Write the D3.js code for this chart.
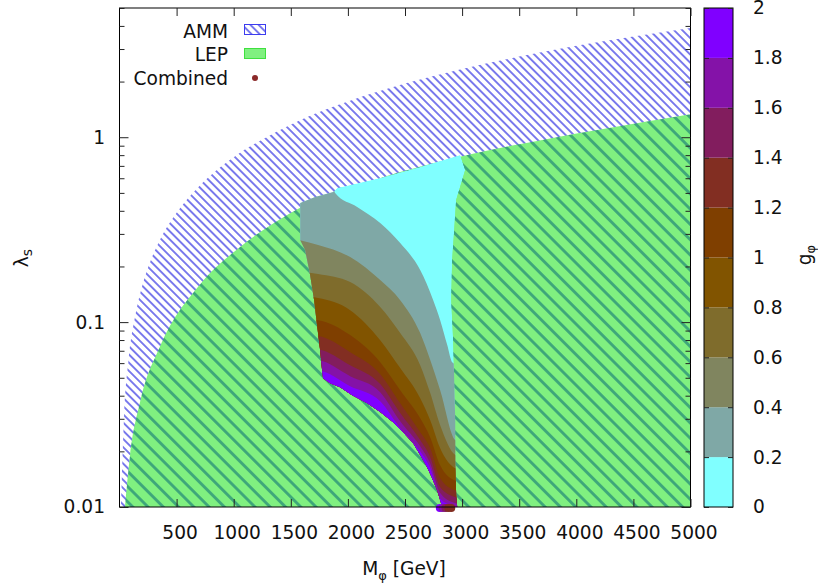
<!DOCTYPE html>
<html>
<head>
<meta charset="utf-8">
<script src="https://cdn.jsdelivr.net/npm/d3@7"></script>
<style>
  body { margin: 0; background: #fff; }
  svg text { font-family: "DejaVu Sans", sans-serif; fill: #111; }
</style>
</head>
<body>
<svg id="drawing_region"></svg>
<script>
// AMM exclusion boundary (lambda below this is hatched)
const ammMass   = [13, 40, 80, 140, 200, 270, 350, 500, 700, 1000, 1300, 1600, 2000, 2500, 3000, 3500, 4000, 4500, 5000];
const ammLambda = [0.0102, 0.031, 0.063, 0.11, 0.158, 0.213, 0.275, 0.39, 0.545, 0.78, 1.01, 1.25, 1.56, 1.95, 2.34, 2.73, 3.12, 3.51, 3.9];

// LEP boundary
const lepMass   = [48, 92, 180, 355, 705, 1056, 1406, 1582, 2020, 2458, 3115, 3772, 4210, 5000];
const lepLambda = [0.01, 0.019, 0.037, 0.074, 0.16, 0.255, 0.36, 0.415, 0.53, 0.648, 0.82, 0.985, 1.1, 1.33];

// outline of the combined allowed region
const regionMass = [1582, 1713, 1871, 1906, 2283, 2633, 2983, 3027, 3001, 2948, 2931, 2913, 2905, 2922, 2931, 2940, 2940, 2948, 2957,
                    2826, 2782, 2738, 2694, 2633, 2572, 2484, 2396, 2283, 2169, 2037, 1932, 1844, 1783, 1774, 1757, 1730, 1704, 1669, 1625, 1582];
const regionLambda = [0.4407, 0.4752, 0.5057, 0.5314, 0.6021, 0.6906, 0.802, 0.665, 0.587, 0.4575, 0.3147, 0.2166, 0.1315, 0.0799, 0.0485, 0.0295, 0.0179, 0.0116, 0.01,
                      0.01, 0.0123, 0.0143, 0.0164, 0.0191, 0.0221, 0.0254, 0.0287, 0.0326, 0.0364, 0.0402, 0.0445, 0.0467, 0.0497, 0.055, 0.0705, 0.0963, 0.1315, 0.1797, 0.2454, 0.278];

// g_phi contour levels: upper edge of the region where g >= level
const bandLevels = [0.2, 0.4, 0.6, 0.8, 1.0, 1.2, 1.4, 1.6, 1.8];
const bandMassCommon = [1494, 1739, 2020, 2283, 2458, 2633, 2721, 2808, 2940, 3071];
const bandMass = [
  [1494, 1871, 1888, 2081, 2283, 2458, 2633, 2747, 2808, 2870, 2913, 3071],
  bandMassCommon, bandMassCommon, bandMassCommon, bandMassCommon,
  bandMassCommon, bandMassCommon, bandMassCommon, bandMassCommon
];
const bandLambda = [
  [0.853, 0.552, 0.499, 0.4195, 0.3436, 0.2677, 0.1912, 0.1315, 0.1025, 0.0751, 0.0607, 0.055],
  [0.285, 0.2611, 0.2248, 0.1688, 0.1315, 0.0872, 0.0623, 0.0428, 0.023, 0.0216],
  [0.1912, 0.1819, 0.1646, 0.1206, 0.0872, 0.0585, 0.0413, 0.0277, 0.0191, 0.0179],
  [0.14, 0.1349, 0.1161, 0.0799, 0.0564, 0.0388, 0.0295, 0.0208, 0.0162, 0.0154],
  [0.1051, 0.1025, 0.0851, 0.0607, 0.0428, 0.0302, 0.0238, 0.0168, 0.0139, 0.0134],
  [0.0861, 0.084, 0.0688, 0.0523, 0.0364, 0.0254, 0.0208, 0.0143, 0.0123, 0.0119],
  [0.0732, 0.0714, 0.0585, 0.0462, 0.0322, 0.023, 0.0186, 0.0128, 0.0113, 0.0109],
  [0.0638, 0.0623, 0.051, 0.0418, 0.0291, 0.0213, 0.0172, 0.0119, 0.0105, 0.0102],
  [0.0564, 0.055, 0.045, 0.0373, 0.0267, 0.02, 0.0162, 0.0111, 0.01, 0.0096]
];

// scan points sitting on the lower axis
const dotMass   = [2805, 2830, 2855, 2880, 2905];
const dotLambda = [0.01, 0.01, 0.01, 0.01, 0.01];
const dotG      = [1.9, 1.7, 1.5, 1.3, 1.3];

const xTicks  = [500, 1000, 1500, 2000, 2500, 3000, 3500, 4000, 4500, 5000];
const yTicks  = [0.01, 0.1, 1];
const cbTicks = [0, 0.2, 0.4, 0.6, 0.8, 1, 1.2, 1.4, 1.6, 1.8, 2];

const palette = ['#80ffff', '#7fa8a6', '#80855f', '#7f6c2c', '#815400', '#7f3f00',
                 '#822e22', '#821d5e', '#8412a8', '#8000ff'];

class ExclusionPlot {

    constructor( config ) {
        this.config = config;
        this.init();
    }

    init() {
        let self = this;
        let c = self.config;

        self.svg = d3.select( c.parent )
            .attr('width', c.width)
            .attr('height', c.height);

        self.x = d3.scaleLinear().domain([0, 5000]).range([c.left, c.right]);
        self.y = d3.scaleLog().domain([0.01, 5]).range([c.bottom, c.top]);
        self.cbY = d3.scaleLinear().domain([0, 2]).range([c.bottom, c.top]);
        self.color = d3.scaleQuantize().domain([0, 2]).range(palette);

        self.line = d3.line()
            .x(d => self.x(d[0]))
            .y(d => self.y(d[1]));
        self.smooth = d3.line()
            .x(d => self.x(d[0]))
            .y(d => self.y(d[1]))
            .curve(d3.curveMonotoneX);

        let defs = self.svg.append('defs');

        defs.append('clipPath').attr('id', 'plotClip')
            .append('rect')
            .attr('x', c.left).attr('y', c.top)
            .attr('width', c.right - c.left).attr('height', c.bottom - c.top);

        let amm = defs.append('pattern')
            .attr('id', 'hatchAMM')
            .attr('patternUnits', 'userSpaceOnUse')
            .attr('width', 5.8).attr('height', 5.8)
            .attr('patternTransform', 'rotate(-45)');
        amm.append('line')
            .attr('x1', 2.9).attr('y1', 0).attr('x2', 2.9).attr('y2', 5.8)
            .attr('stroke', '#5b5be8').attr('stroke-width', 1.6);

        let lep = defs.append('pattern')
            .attr('id', 'hatchLEP')
            .attr('patternUnits', 'userSpaceOnUse')
            .attr('width', 10.8).attr('height', 10.8)
            .attr('patternTransform', 'rotate(-45)');
        lep.append('rect')
            .attr('width', 10.8).attr('height', 10.8)
            .attr('fill', '#80f080');
        lep.append('line')
            .attr('x1', 5.4).attr('y1', 0).attr('x2', 5.4).attr('y2', 10.8)
            .attr('stroke', '#3ca57a').attr('stroke-width', 2.8);

        let region = d3.zip(regionMass, regionLambda);
        defs.append('clipPath').attr('id', 'regionClip')
            .append('path')
            .attr('d', self.line(region) + 'Z');
        self.region = region;
    }

    update() {
        let self = this;
        self.render();
    }

    // smooth upper edge, then straight down and back along the bottom
    areaBelow( pts ) {
        let self = this;
        let first = pts[0], last = pts[pts.length - 1];
        return self.smooth(pts) +
            'L' + self.x(last[0]) + ',' + self.y(0.009) +
            'L' + self.x(first[0]) + ',' + self.y(0.009) + 'Z';
    }

    render() {
        let self = this;
        let c = self.config;

        let plot = self.svg.append('g').attr('clip-path', 'url(#plotClip)');

        plot.append('path')
            .attr('d', self.areaBelow(d3.zip(ammMass, ammLambda)))
            .attr('fill', 'url(#hatchAMM)');

        plot.append('path')
            .attr('d', self.areaBelow(d3.zip(lepMass, lepLambda)))
            .attr('fill', 'url(#hatchLEP)');

        let combined = plot.append('g').attr('clip-path', 'url(#regionClip)');

        combined.append('path')
            .attr('d', self.line(self.region) + 'Z')
            .attr('fill', self.color(0.1));

        combined.selectAll('path.band')
            .data(bandLevels)
            .enter()
            .append('path')
            .attr('class', 'band')
            .attr('d', (d, i) => self.areaBelow(d3.zip(bandMass[i], bandLambda[i])))
            .attr('fill', d => self.color(d + 0.1));

        self.svg.append('g')
            .selectAll('circle')
            .data(d3.zip(dotMass, dotLambda, dotG))
            .enter()
            .append('circle')
            .attr('cx', d => self.x(d[0]))
            .attr('cy', d => self.y(d[1]) + 1)
            .attr('r', 4)
            .attr('fill', d => self.color(d[2]));

        // frame and ticks
        self.svg.append('rect')
            .attr('x', c.left).attr('y', c.top)
            .attr('width', c.right - c.left).attr('height', c.bottom - c.top)
            .attr('fill', 'none').attr('stroke', '#000').attr('stroke-width', 1);

        let minor = self.y.ticks().filter(t => !yTicks.includes(t));

        let xAxis = self.svg.append('g')
            .attr('transform', `translate(0, ${c.bottom})`)
            .call(d3.axisBottom(self.x).tickValues(xTicks).tickSize(-8).tickPadding(18.5).tickFormat(d3.format('d')));
        xAxis.selectAll('text').attr('dx', 3);
        self.svg.append('g')
            .attr('transform', `translate(0, ${c.top})`)
            .call(d3.axisTop(self.x).tickValues(xTicks).tickSize(-8).tickFormat(''));

        self.svg.append('g')
            .attr('transform', `translate(${c.left}, 0)`)
            .call(d3.axisLeft(self.y).tickValues(yTicks).tickSize(-9).tickPadding(14.5).tickFormat(d3.format('')));
        self.svg.append('g')
            .attr('transform', `translate(${c.left}, 0)`)
            .call(d3.axisLeft(self.y).tickValues(minor).tickSize(-5).tickFormat(''));
        self.svg.append('g')
            .attr('transform', `translate(${c.right}, 0)`)
            .call(d3.axisRight(self.y).tickValues(yTicks).tickSize(-9).tickFormat(''));
        self.svg.append('g')
            .attr('transform', `translate(${c.right}, 0)`)
            .call(d3.axisRight(self.y).tickValues(minor).tickSize(-5).tickFormat(''));

        // colour box
        let cb = self.svg.append('g');
        cb.selectAll('rect')
            .data(palette)
            .enter()
            .append('rect')
            .attr('x', c.cbLeft)
            .attr('width', c.cbRight - c.cbLeft)
            .attr('y', (d, i) => self.cbY((i + 1) * 0.2))
            .attr('height', (d, i) => self.cbY(i * 0.2) - self.cbY((i + 1) * 0.2))
            .attr('fill', d => d);
        cb.append('rect')
            .attr('x', c.cbLeft).attr('y', c.top)
            .attr('width', c.cbRight - c.cbLeft).attr('height', c.bottom - c.top)
            .attr('fill', 'none').attr('stroke', '#000');

        self.svg.append('g')
            .attr('transform', `translate(${c.cbRight}, 0)`)
            .call(d3.axisRight(self.cbY).tickValues(cbTicks).tickSize(-5).tickPadding(20).tickFormat(d3.format('')));
        self.svg.append('g')
            .attr('transform', `translate(${c.cbLeft}, 0)`)
            .call(d3.axisLeft(self.cbY).tickValues(cbTicks).tickSize(-5).tickFormat(''));

        self.svg.selectAll('.domain').remove();
        self.svg.selectAll('.tick line').attr('stroke', '#222');
        self.svg.selectAll('.tick text')
            .style('font-size', '18.6px')
            .attr('fill', '#111');

        // axis titles
        let xt = self.svg.append('text')
            .attr('x', 404).attr('y', 575)
            .attr('text-anchor', 'middle')
            .style('font-size', '18.6px');
        xt.append('tspan').text('M');
        xt.append('tspan').attr('dy', 5).style('font-size', '13px').text('φ');
        xt.append('tspan').attr('dy', -5).text(' [GeV]');

        let yt = self.svg.append('text')
            .attr('transform', 'translate(28, 258) rotate(-90)')
            .attr('text-anchor', 'middle')
            .style('font-size', '18.6px');
        yt.append('tspan').text('λ');
        yt.append('tspan').attr('dy', 4).style('font-size', '14px').text('s');

        let ct = self.svg.append('text')
            .attr('transform', 'translate(811, 255) rotate(-90)')
            .attr('text-anchor', 'middle')
            .style('font-size', '18.6px');
        ct.append('tspan').text('g');
        ct.append('tspan').attr('dy', 4).style('font-size', '13px').text('φ');

        // legend
        let lg = self.svg.append('g').style('font-size', '18.6px');
        lg.append('text').attr('x', 228).attr('y', 37.5).attr('text-anchor', 'end').text('AMM');
        lg.append('text').attr('x', 228).attr('y', 60.5).attr('text-anchor', 'end').text('LEP');
        lg.append('text').attr('x', 228).attr('y', 84.5).attr('text-anchor', 'end').text('Combined');
        lg.append('rect').attr('x', 244.5).attr('y', 24.5).attr('width', 21).attr('height', 10)
            .attr('fill', 'url(#hatchAMM)').attr('stroke', '#3c3cf0');
        lg.append('rect').attr('x', 244.5).attr('y', 48.5).attr('width', 21).attr('height', 10)
            .attr('fill', '#80f080').attr('stroke', '#3fe03f');
        lg.append('circle').attr('cx', 255).attr('cy', 78).attr('r', 3).attr('fill', '#8b2a2a');
    }
}

const plot = new ExclusionPlot({
    parent: '#drawing_region',
    width: 818,
    height: 585,
    left: 119.5, right: 690.5, top: 8, bottom: 507,
    cbLeft: 704, cbRight: 733
});
plot.update();
</script>
</body>
</html>
